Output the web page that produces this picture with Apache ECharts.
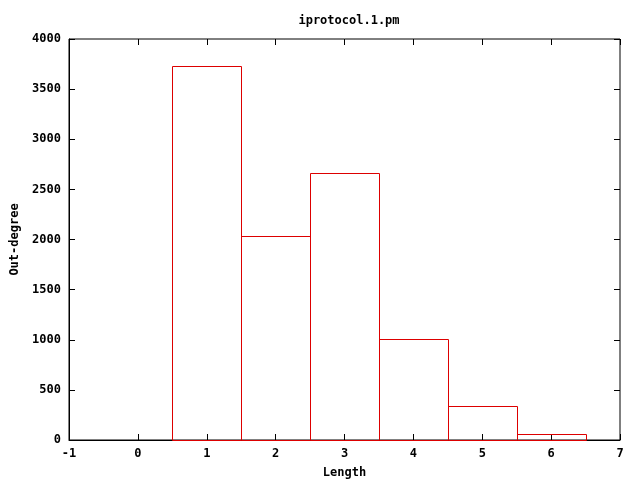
<!DOCTYPE html>
<html><head><meta charset="utf-8">
<script src="https://cdn.jsdelivr.net/npm/echarts@6/dist/echarts.min.js"></script>
<style>html,body{margin:0;padding:0;background:#fff}#c{width:640px;height:480px}</style>
</head><body><div id="c"></div>
<script>
const lengths = [1, 2, 3, 4, 5, 6];
const outDegree = [3730, 2030, 2662, 1012, 338, 60];
const titleText = 'iprotocol.1.pm';
const xName = 'Length';
const yName = 'Out-degree';

const FONT = 'DejaVu Sans Mono';
const chart = echarts.init(document.getElementById('c'), null, {renderer: 'canvas'});
const lineStyle = {color: '#000', width: 1};
const tickBase = {show: true, inside: true, length: 6, lineStyle: lineStyle};
const labelStyle = {fontFamily: FONT, fontWeight: 'bold', fontSize: 12, color: '#000'};
const plain = v => String(v);
chart.setOption({
  animation: false,
  backgroundColor: '#fff',
  title: {text: titleText, left: 344, top: 10, textAlign: 'center',
    textStyle: {fontFamily: FONT, fontWeight: 'bold', fontSize: 12, color: '#000'}},
  grid: {left: 69, right: 20, top: 39, bottom: 40, containLabel: false, outerBoundsMode: 'none',
    show: true, borderColor: '#000', borderWidth: 1, backgroundColor: 'transparent'},
  xAxis: [
    {type: 'value', min: -1, max: 7, interval: 1, position: 'bottom',
     name: xName, nameLocation: 'middle', nameGap: 27, nameTextStyle: labelStyle,
     axisLine: {show: true, onZero: false, lineStyle: lineStyle}, axisTick: tickBase,
     axisLabel: Object.assign({margin: 8, formatter: plain}, labelStyle), splitLine: {show: false}},
    {type: 'value', min: -1, max: 7, interval: 1, position: 'top',
     axisLine: {show: false, onZero: false}, axisTick: tickBase, axisLabel: {show: false}, splitLine: {show: false}}
  ],
  yAxis: [
    {type: 'value', min: 0, max: 4000, interval: 500, position: 'left',
     name: yName, nameLocation: 'middle', nameGap: 48, nameRotate: 90, nameTextStyle: labelStyle,
     axisLine: {show: true, onZero: false, lineStyle: lineStyle}, axisTick: tickBase,
     axisLabel: Object.assign({margin: 8, formatter: plain}, labelStyle), splitLine: {show: false}},
    {type: 'value', min: 0, max: 4000, interval: 500, position: 'right',
     axisLine: {show: false, onZero: false}, axisTick: tickBase, axisLabel: {show: false}, splitLine: {show: false}}
  ],
  series: [{
    type: 'custom',
    data: lengths.map((x, i) => [x, outDegree[i]]),
    renderItem: function (params, api) {
      const x = api.value(0), y = api.value(1);
      const p1 = api.coord([x - 0.5, y]);
      const p2 = api.coord([x + 0.5, 0]);
      return {type: 'rect',
        shape: {x: Math.round(p1[0]) + 0.5, y: Math.round(p1[1]) + 0.5, width: Math.round(p2[0] - p1[0]), height: Math.round(p2[1] - p1[1])},
        style: {fill: 'none', stroke: '#dd0000', lineWidth: 1}};
    }
  }]
});
</script></body></html>
